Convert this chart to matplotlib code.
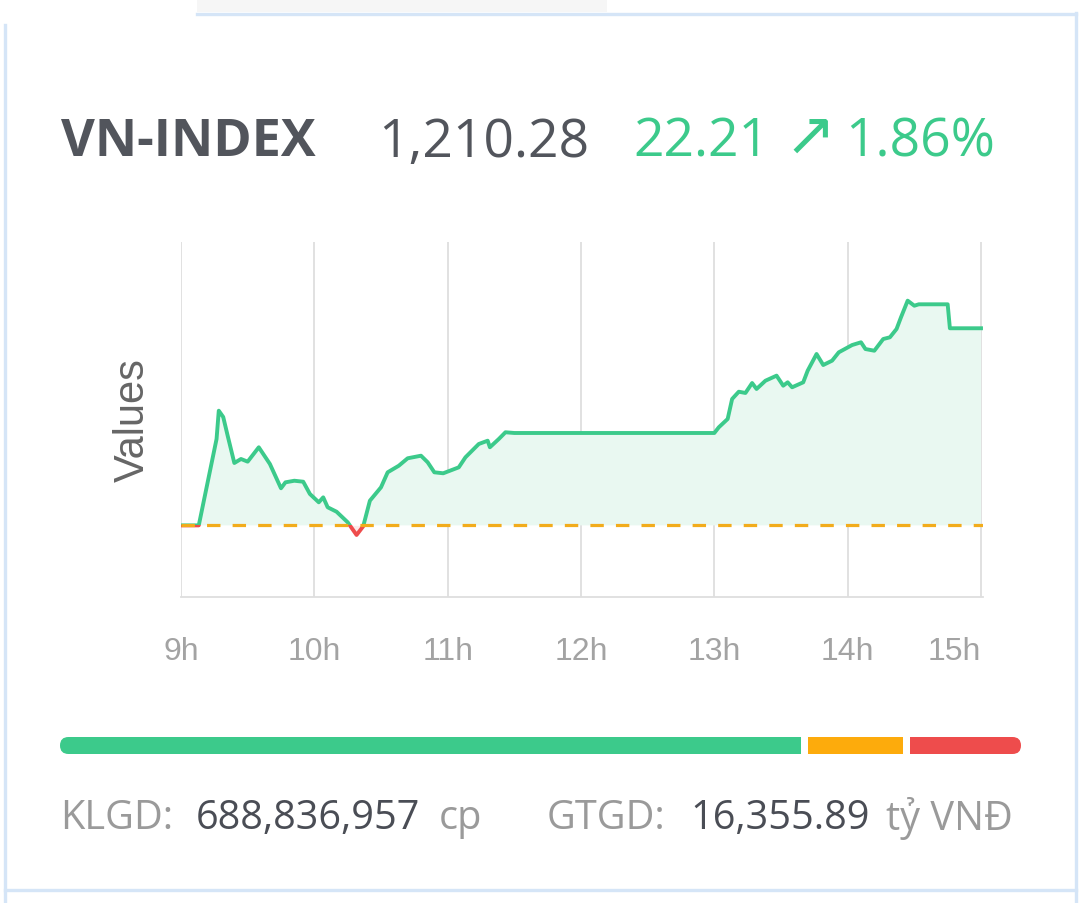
import numpy as np
import matplotlib.pyplot as plt
from matplotlib.lines import Line2D
from matplotlib.patches import Rectangle, FancyBboxPatch

W, H = 1089, 904

# header / footer numbers
index_name = "VN-INDEX"
close_value = 1210.28
change = 22.21
change_pct = 1.86
ref_value = 1188.07
klgd = 688836957
gtgd = 16355.89

# intraday points
times = ["9:00", "9:08", "9:16", "9:17", "9:19", "9:21", "9:24", "9:27", "9:30",
         "9:35", "9:40", "9:45", "9:47", "9:51", "9:55", "9:58", "10:02", "10:04",
         "10:06", "10:10", "10:15", "10:19", "10:22", "10:25", "10:30", "10:33",
         "10:38", "10:42", "10:48", "10:51", "10:54", "10:58", "11:05", "11:08",
         "11:14", "11:18", "11:19", "11:23", "11:26", "11:30", "13:00", "13:02",
         "13:06", "13:08", "13:11", "13:14", "13:17", "13:19", "13:23", "13:28",
         "13:31", "13:33", "13:35", "13:40", "13:42", "13:46", "13:49", "13:53",
         "13:56", "14:02", "14:06", "14:08", "14:12", "14:16", "14:19", "14:22",
         "14:24", "14:27", "14:30", "14:32", "14:45", "14:46", "15:00"]
values = [1188.07, 1188.07, 1197.80, 1200.99, 1200.28, 1198.17, 1195.10, 1195.55, 1195.25,
          1196.87, 1194.99, 1192.25, 1192.92, 1193.10, 1192.99, 1191.61, 1190.67, 1191.23,
          1190.11, 1189.61, 1188.42, 1186.99, 1187.97, 1190.85, 1192.36, 1194.05,
          1194.79, 1195.63, 1195.92, 1195.18, 1194.05, 1193.94, 1194.61, 1195.74,
          1197.24, 1197.61, 1196.87, 1197.80, 1198.56, 1198.48, 1198.48, 1199.12,
          1200.06, 1202.31, 1203.13, 1202.99, 1204.11, 1203.44, 1204.37, 1204.94,
          1203.81, 1204.19, 1203.63, 1204.19, 1205.50, 1207.38, 1206.14, 1206.63,
          1207.57, 1208.39, 1208.70, 1207.94, 1207.75, 1209.07, 1209.26, 1210.20,
          1211.52, 1213.39, 1212.82, 1212.98, 1212.98, 1210.28, 1210.28]

hour_ticks = [9, 10, 11, 12, 13, 14, 15]
hour_labels = ["9h", "10h", "11h", "12h", "13h", "14h", "15h"]

# advancers / unchanged / decliners
breadth_counts = [313, 40, 47]
breadth_colors = ["#3cca8b", "#fdab0c", "#ee4c4c"]

GREEN = "#3cca8b"
RED = "#ee4c4c"
ORANGE = "#f2ac1c"
BORDER = "#d5e5f7"


def fx(x):
    return x / W


def fy(y):
    return 1 - y / H


t = np.array([int(s.split(":")[0]) + int(s.split(":")[1]) / 60 for s in times])
v = np.array(values)

fig = plt.figure(figsize=(W / 100, H / 100), dpi=100)
fig.patch.set_facecolor("white")

# card frame
fig.add_artist(Rectangle((fx(197), fy(13)), fx(607) - fx(197), fy(0) - fy(13),
                         transform=fig.transFigure, facecolor="#f6f6f6", edgecolor="none"))
for xs, ys in [((197, 1076), (14.5, 14.5)), ((1076, 1076), (14, 904)),
               ((5, 5), (26, 904)), ((5, 1076), (891, 891))]:
    fig.add_artist(Line2D([fx(xs[0]), fx(xs[1])], [fy(ys[0]), fy(ys[1])],
                          transform=fig.transFigure, color=BORDER, lw=2.4))

# header
hy = fy(143)
fig.text(fx(61), hy, index_name, fontsize=37.5, fontweight="bold",
         family="Open Sans", color="#52555c", va="center")
fig.text(fx(378), hy, f"{close_value:,.2f}", fontsize=38.5,
         family="Open Sans", color="#52555c", va="center")
fig.text(fx(633), hy, f"{change:,.2f}", fontsize=38.5,
         family="Open Sans", color=GREEN, va="center")
fig.text(fx(784), fy(139), "\u2197", fontsize=44,
         family=["Open Sans", "DejaVu Sans"], color=GREEN, va="center")
fig.text(fx(845), hy, f"{change_pct:.2f}%", fontsize=38.5,
         family="Open Sans", color=GREEN, va="center")

# intraday chart
ax = fig.add_axes([fx(181), fy(598), fx(983) - fx(181), fy(243) - fy(598)])
ax.set_xlim(9, 15.015)
ax.set_ylim(1180, 1220)

up = v >= ref_value
ax.fill_between(t, v, ref_value, where=up, interpolate=True,
                color="#e9f8f1", lw=0, zorder=1)
ax.fill_between(t, v, ref_value, where=~up, interpolate=True,
                color="#fdeaea", lw=0, zorder=1)

gline, = ax.plot(t, v, color=GREEN, lw=2.8, zorder=3, solid_joinstyle="round")
rline, = ax.plot(t, v, color=RED, lw=2.8, zorder=3, solid_joinstyle="round")
above = Rectangle((9, ref_value), 7, 60, transform=ax.transData)
below = Rectangle((9, ref_value - 60), 7, 60, transform=ax.transData)
gline.set_clip_path(above)
rline.set_clip_path(below)

ax.axhline(ref_value, color=ORANGE, lw=2.3, dashes=(4.2, 3.8), zorder=4)

ax.set_xticks(hour_ticks)
ax.set_xticklabels(hour_labels)
ax.set_yticks([])
ax.grid(axis="x", color="#dedede", lw=1.3, zorder=0)
ax.set_axisbelow(True)
for side in ["top", "left", "right"]:
    ax.spines[side].set_visible(False)
ax.spines["bottom"].set_color("#dedede")
ax.spines["bottom"].set_linewidth(1.3)
ax.tick_params(axis="x", length=0, pad=28, labelsize=23, labelcolor="#a3a3a3")
for lab in ax.get_xticklabels():
    lab.set_family("Liberation Sans")
ax.get_xticklabels()[-1].set_ha("right")
ax.set_ylabel("Values", fontsize=30, color="#666666", family="Liberation Sans", labelpad=20)

# breadth bar
bax = fig.add_axes([fx(60), fy(755), fx(1021) - fx(60), fy(738) - fy(755)])
bar_w, bar_h, gap = 961, 17, 7
bax.set_xlim(0, bar_w)
bax.set_ylim(0, bar_h)
bax.axis("off")
shape = FancyBboxPatch((0, 0), bar_w, bar_h, boxstyle="round,pad=0,rounding_size=8.5",
                       transform=bax.transData, facecolor="none", edgecolor="none")
bax.add_patch(shape)
avail = bar_w - gap * (len(breadth_counts) - 1)
widths = np.array(breadth_counts) / sum(breadth_counts) * avail
left = 0
for w, c in zip(widths, breadth_colors):
    r = Rectangle((left, 0), w, bar_h, facecolor=c, edgecolor="none")
    bax.add_patch(r)
    r.set_clip_path(shape)
    left += w + gap

# footer
fy_foot = fy(819)
fs = 28.6
fig.text(fx(60), fy_foot, "KLGD:", fontsize=fs, family="Open Sans", color="#9a9a9a", va="center")
fig.text(fx(196), fy_foot, f"{klgd:,}", fontsize=fs, family="Open Sans", color="#4a4d55", va="center")
fig.text(fx(439), fy_foot, "cp", fontsize=fs, family="Open Sans", color="#9a9a9a", va="center")
fig.text(fx(547), fy_foot, "GTGD:", fontsize=fs, family="Open Sans", color="#9a9a9a", va="center")
fig.text(fx(690), fy_foot, f"{gtgd:,.2f}", fontsize=fs, family="Open Sans", color="#4a4d55", va="center")
fig.text(fx(886), fy_foot, "tỷ VNĐ", fontsize=fs, family="Open Sans", color="#9a9a9a", va="center")

fig.savefig("out.png", dpi=100, facecolor="white")
